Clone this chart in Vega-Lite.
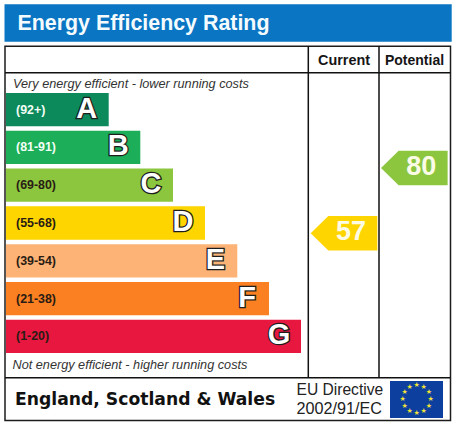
{
  "$schema": "https://vega.github.io/schema/vega-lite/v6.json",
  "width": 456,
  "height": 425,
  "padding": 0,
  "autosize": {"type": "fit", "contains": "padding"},
  "background": "white",
  "config": {
    "view": {"stroke": null},
    "font": "Liberation Sans",
    "axis": {"disable": true},
    "legend": {"disable": true}
  },
  "datasets": {
    "bands": [
      {"band": "A", "range": "(92+)", "end": 108.7},
      {"band": "B", "range": "(81-91)", "end": 140.3},
      {"band": "C", "range": "(69-80)", "end": 173},
      {"band": "D", "range": "(55-68)", "end": 205},
      {"band": "E", "range": "(39-54)", "end": 237.3},
      {"band": "F", "range": "(21-38)", "end": 269},
      {"band": "G", "range": "(1-20)", "end": 301}
    ],
    "ratings": [
      {"rating": "Current", "score": 57, "band": "D"},
      {"rating": "Potential", "score": 80, "band": "C"}
    ],
    "stars": [
      {"clock": 1}, {"clock": 2}, {"clock": 3}, {"clock": 4},
      {"clock": 5}, {"clock": 6}, {"clock": 7}, {"clock": 8},
      {"clock": 9}, {"clock": 10}, {"clock": 11}, {"clock": 12}
    ],
    "one": [{"item": "frame"}]
  },
  "resolve": {"scale": {"x": "independent", "y": "independent"}},
  "layer": [
    {
      "data": {"name": "one"},
      "encoding": {
        "x": {"datum": 0, "type": "quantitative", "scale": {"domain": [0, 456], "range": [0, 456]}},
        "y": {"datum": 0, "type": "quantitative", "scale": {"domain": [0, 425], "range": [0, 425]}}
      },
      "layer": [
        {
          "mark": {"type": "rect", "fill": "#0a75c2"},
          "encoding": {
            "x": {"datum": 4.5, "type": "quantitative"}, "x2": {"datum": 451.7},
            "y": {"datum": 4.3, "type": "quantitative"}, "y2": {"datum": 41.7}
          }
        },
        {
          "mark": {"type": "text", "text": "Energy Efficiency Rating", "align": "left", "baseline": "alphabetic", "fontWeight": "bold", "fontSize": 21.4, "fill": "#f4fbff"},
          "encoding": {"x": {"datum": 17.5, "type": "quantitative"}, "y": {"datum": 29.5, "type": "quantitative"}}
        },
        {
          "mark": {"type": "rect", "fill": "white", "stroke": "#1c1c1c", "strokeWidth": 1.5},
          "encoding": {
            "x": {"datum": 5, "type": "quantitative"}, "x2": {"datum": 450.5},
            "y": {"datum": 46.3, "type": "quantitative"}, "y2": {"datum": 420.5}
          }
        },
        {
          "mark": {"type": "rule", "stroke": "#111", "strokeWidth": 1.5},
          "encoding": {
            "x": {"datum": 5, "type": "quantitative"}, "x2": {"datum": 450.5},
            "y": {"datum": 72.8, "type": "quantitative"}
          }
        },
        {
          "mark": {"type": "rule", "stroke": "#111", "strokeWidth": 1.5},
          "encoding": {
            "x": {"datum": 5, "type": "quantitative"}, "x2": {"datum": 450.5},
            "y": {"datum": 377.7, "type": "quantitative"}
          }
        },
        {
          "mark": {"type": "rule", "stroke": "#111", "strokeWidth": 1.5},
          "encoding": {
            "x": {"datum": 308.3, "type": "quantitative"},
            "y": {"datum": 46.3, "type": "quantitative"}, "y2": {"datum": 377.7}
          }
        },
        {
          "mark": {"type": "rule", "stroke": "#111", "strokeWidth": 1.5},
          "encoding": {
            "x": {"datum": 379, "type": "quantitative"},
            "y": {"datum": 46.3, "type": "quantitative"}, "y2": {"datum": 377.7}
          }
        },
        {
          "mark": {"type": "text", "text": "Current", "align": "center", "baseline": "alphabetic", "fontWeight": "bold", "fontSize": 14.4, "fill": "#151515"},
          "encoding": {"x": {"datum": 344, "type": "quantitative"}, "y": {"datum": 65, "type": "quantitative"}}
        },
        {
          "mark": {"type": "text", "text": "Potential", "align": "center", "baseline": "alphabetic", "fontWeight": "bold", "fontSize": 14, "fill": "#151515"},
          "encoding": {"x": {"datum": 414.5, "type": "quantitative"}, "y": {"datum": 65, "type": "quantitative"}}
        },
        {
          "mark": {"type": "text", "text": "Very energy efficient - lower running costs", "align": "left", "baseline": "alphabetic", "fontStyle": "italic", "fontSize": 12.7, "fill": "#333"},
          "encoding": {"x": {"datum": 13, "type": "quantitative"}, "y": {"datum": 87.5, "type": "quantitative"}}
        },
        {
          "mark": {"type": "text", "text": "Not energy efficient - higher running costs", "align": "left", "baseline": "alphabetic", "fontStyle": "italic", "fontSize": 12.7, "fill": "#333"},
          "encoding": {"x": {"datum": 12.5, "type": "quantitative"}, "y": {"datum": 369, "type": "quantitative"}}
        },
        {
          "mark": {"type": "text", "text": "England, Scotland & Wales", "align": "left", "baseline": "alphabetic", "font": "DejaVu Sans", "fontWeight": "bold", "fontSize": 17.2, "fill": "#111"},
          "encoding": {"x": {"datum": 15, "type": "quantitative"}, "y": {"datum": 404.7, "type": "quantitative"}}
        },
        {
          "mark": {"type": "text", "text": "EU Directive", "align": "left", "baseline": "alphabetic", "fontSize": 15.6, "fill": "#222"},
          "encoding": {"x": {"datum": 296.5, "type": "quantitative"}, "y": {"datum": 395, "type": "quantitative"}}
        },
        {
          "mark": {"type": "text", "text": "2002/91/EC", "align": "left", "baseline": "alphabetic", "fontSize": 16.2, "fill": "#222"},
          "encoding": {"x": {"datum": 296.5, "type": "quantitative"}, "y": {"datum": 414, "type": "quantitative"}}
        },
        {
          "mark": {"type": "rect", "fill": "#0d3f9e"},
          "encoding": {
            "x": {"datum": 390, "type": "quantitative"}, "x2": {"datum": 443},
            "y": {"datum": 381, "type": "quantitative"}, "y2": {"datum": 418}
          }
        },
        {
          "data": {"name": "stars"},
          "mark": {"type": "text", "text": "★", "font": "DejaVu Sans", "fontSize": 7, "radius": 14, "baseline": "middle", "align": "center", "fill": "#f2e23a"},
          "encoding": {
            "x": {"datum": 416.7, "type": "quantitative"},
            "y": {"datum": 399.3, "type": "quantitative"},
            "theta": {"field": "clock", "type": "quantitative", "scale": {"domain": [0, 12], "range": [0, 6.2832]}}
          }
        }
      ]
    },
    {
      "data": {"name": "bands"},
      "encoding": {
        "x": {"field": "end", "type": "quantitative", "scale": {"domain": [0, 456], "range": [0, 456]}},
        "y": {
          "field": "band",
          "type": "nominal",
          "scale": {
            "domain": ["A", "B", "C", "D", "E", "F", "G"],
            "range": [93, 353],
            "paddingInner": 0.12,
            "paddingOuter": 0
          }
        }
      },
      "layer": [
        {
          "mark": {"type": "bar"},
          "encoding": {
            "x2": {"datum": 6},
            "color": {
              "field": "band",
              "type": "nominal",
              "scale": {
                "domain": ["A", "B", "C", "D", "E", "F", "G"],
                "range": ["#0c8a5c", "#1cae58", "#8cc63f", "#ffd500", "#fcb375", "#fb8021", "#e8173f"]
              }
            }
          }
        },
        {
          "mark": {"type": "text", "align": "left", "baseline": "middle", "fontWeight": "bold", "fontSize": 12.4},
          "encoding": {
            "x": {"datum": 16, "type": "quantitative"},
            "text": {"field": "range"},
            "color": {
              "condition": {"test": "datum.band === 'A' || datum.band === 'B'", "value": "#f2fff6"},
              "value": "#2a1c14"
            }
          }
        },
        {
          "mark": {"type": "text", "align": "center", "baseline": "middle", "dx": -22, "dy": -1, "fontWeight": "bold", "fontSize": 29, "fill": "#1d1d1d", "stroke": "#1d1d1d", "strokeWidth": 2.6},
          "encoding": {"text": {"field": "band"}}
        },
        {
          "mark": {"type": "text", "align": "center", "baseline": "middle", "dx": -22, "dy": -1, "fontWeight": "bold", "fontSize": 29, "fill": "white"},
          "encoding": {"text": {"field": "band"}}
        }
      ]
    },
    {
      "data": {"name": "ratings"},
      "encoding": {
        "x": {"field": "rating", "type": "nominal", "scale": {"type": "point", "domain": ["Current", "Potential"], "range": [344, 414.3], "padding": 0}},
        "y": {"field": "score", "type": "quantitative", "scale": {"domain": [57, 80], "range": [233.3, 168], "zero": false, "nice": false}}
      },
      "layer": [
        {
          "mark": {"type": "point", "filled": true, "opacity": 1, "shape": "M-1 0L-0.47 -0.52L1 -0.52L1 0.52L-0.47 0.52Z", "size": 4436},
          "encoding": {"color": {"field": "band", "type": "nominal"}}
        },
        {
          "mark": {"type": "text", "align": "center", "baseline": "middle", "dx": 7, "dy": -1, "fontWeight": "bold", "fontSize": 27, "fill": "#fbfbe6"},
          "encoding": {"text": {"field": "score"}}
        }
      ]
    }
  ]
}
